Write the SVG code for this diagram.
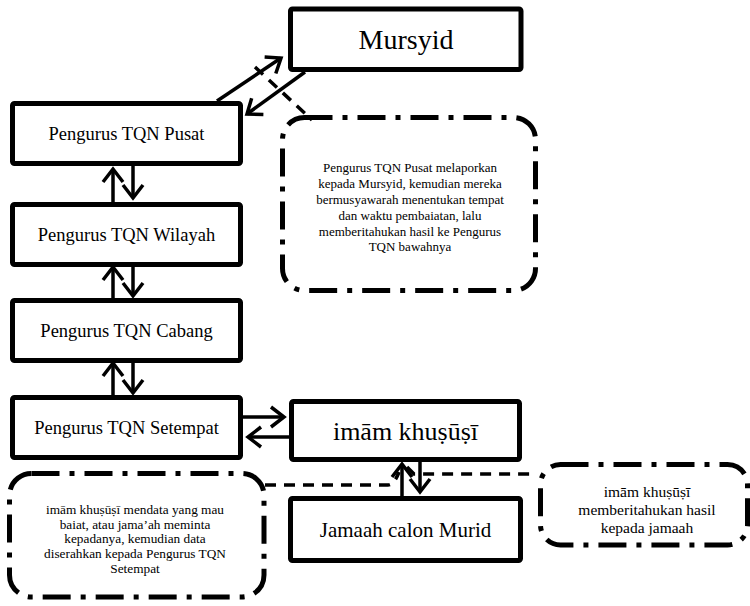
<svg xmlns="http://www.w3.org/2000/svg" width="750" height="606" viewBox="0 0 750 606">
<style>
.box{fill:#fff;stroke:#000;stroke-width:5}
.t{font-family:'Liberation Serif',Tinos,'Times New Roman',Times,'DejaVu Serif','Noto Serif',serif;fill:#000;text-anchor:middle}
.call{fill:none;stroke:#000;stroke-width:5;stroke-dasharray:28 10 5 10}
.arr{fill:none;stroke:#000;stroke-width:3.5;marker-end:url(#ah)}
.dash{fill:none;stroke:#000;stroke-width:3.5;stroke-dasharray:11 8}
</style>
<defs>
<marker id="ah" viewBox="-16 -12 18 24" refX="0" refY="0" markerWidth="18" markerHeight="24" markerUnits="userSpaceOnUse" orient="auto" overflow="visible">
<path d="M-13,-10 L0,0 L-13,10" fill="none" stroke="#000" stroke-width="3.5"/>
</marker>
</defs>
<rect width="750" height="606" fill="#fff"/>

<g id="callout-pusat">
<rect class="call" x="282.5" y="117.5" width="253" height="173" rx="22"/>
<text class="t" font-size="13" x="410"><tspan x="410" y="172">Pengurus TQN Pusat melaporkan</tspan><tspan x="410" y="188">kepada Mursyid, kemudian mereka</tspan><tspan x="410" y="204">bermusyawarah menentukan tempat</tspan><tspan x="410" y="220">dan waktu pembaiatan, lalu</tspan><tspan x="410" y="236">memberitahukan hasil ke Pengurus</tspan><tspan x="410" y="251">TQN bawahnya</tspan></text>
</g>

<g id="callout-setempat">
<rect class="call" x="9.5" y="473.5" width="254.5" height="123.5" rx="22"/>
<text class="t" font-size="13.3"><tspan x="135" y="514">imām khuṣūṣī mendata yang mau</tspan><tspan x="135" y="529">baiat, atau jama’ah meminta</tspan><tspan x="135" y="543">kepadanya, kemudian data</tspan><tspan x="135" y="558">diserahkan kepada Pengurus TQN</tspan><tspan x="135" y="573">Setempat</tspan></text>
</g>

<g id="callout-jamaah">
<rect class="call" x="540.5" y="464.5" width="207" height="80.5" rx="20"/>
<text class="t" font-size="15.5"><tspan x="647" y="497">imām khuṣūṣī</tspan><tspan x="647" y="515">memberitahukan hasil</tspan><tspan x="647" y="533">kepada jamaah</tspan></text>
</g>

<g id="mursyid">
<rect class="box" x="290.5" y="9" width="230.5" height="60.5" rx="2"/>
<text class="t" font-size="28" x="406" y="49">Mursyid</text>
</g>

<g id="pusat">
<rect class="box" x="12.5" y="103.5" width="228" height="60" rx="2"/>
<text class="t" font-size="18.5" x="126.5" y="140">Pengurus TQN Pusat</text>
</g>

<g id="wilayah">
<rect class="box" x="12.5" y="204.5" width="228" height="60" rx="2"/>
<text class="t" font-size="18.5" x="126.5" y="241">Pengurus TQN Wilayah</text>
</g>

<g id="cabang">
<rect class="box" x="12.5" y="300.5" width="228" height="60" rx="2"/>
<text class="t" font-size="18.5" x="126.5" y="337">Pengurus TQN Cabang</text>
</g>

<g id="setempat">
<rect class="box" x="12.5" y="397.5" width="228" height="60" rx="2"/>
<text class="t" font-size="18.5" x="126.5" y="434">Pengurus TQN Setempat</text>
</g>

<g id="imam">
<rect class="box" x="291.5" y="401.5" width="228" height="58" rx="2"/>
<text class="t" font-size="26" x="405.5" y="440">imām khuṣūṣī</text>
</g>

<g id="jamaah">
<rect class="box" x="290.5" y="498.5" width="230" height="62" rx="2"/>
<text class="t" font-size="21" x="405.5" y="537">Jamaah calon Murid</text>
</g>

<g id="connectors">
<line class="arr" x1="217" y1="101" x2="281" y2="58"/>
<line class="arr" x1="305" y1="72" x2="247" y2="114"/>
<line class="dash" x1="255" y1="67" x2="312" y2="120" stroke-dasharray="13 12"/>

<line class="arr" x1="113" y1="202" x2="113" y2="169"/>
<line class="arr" x1="133" y1="166" x2="133" y2="198"/>
<line class="arr" x1="113" y1="298" x2="113" y2="267"/>
<line class="arr" x1="133" y1="267" x2="133" y2="296"/>
<line class="arr" x1="113" y1="395" x2="113" y2="363"/>
<line class="arr" x1="133" y1="363" x2="133" y2="393"/>

<line class="arr" x1="243" y1="417" x2="284" y2="417"/>
<line class="arr" x1="289" y1="437" x2="248" y2="437"/>

<line class="arr" x1="402" y1="496" x2="402" y2="464"/>
<line class="arr" x1="420" y1="462" x2="420" y2="492"/>

<path class="dash" d="M265,485 L388,485 Q394,485 399,472"/>
<path class="dash" d="M407,467 L414,474 L536,474"/>
</g>
</svg>
